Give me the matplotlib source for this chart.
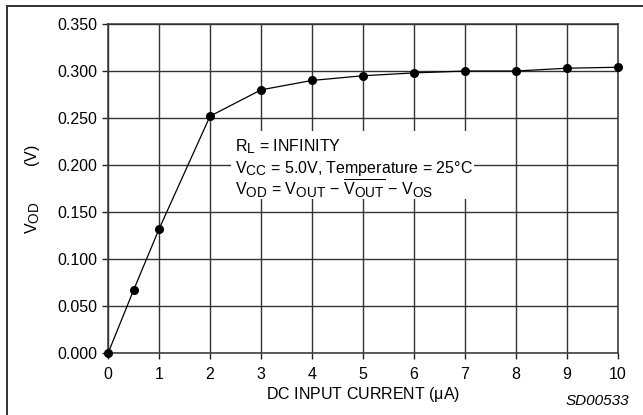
import matplotlib
matplotlib.use("Agg")
from matplotlib import pyplot as plt
from matplotlib.patches import Rectangle
from matplotlib.lines import Line2D
import matplotlib._mathtext as mathtext_internal

# values
current = [0, 0.5, 1, 2, 3, 4, 5, 6, 7, 8, 9, 10]
vod = [0.000, 0.067, 0.132, 0.252, 0.280, 0.290, 0.295, 0.298, 0.300, 0.300, 0.303, 0.304]

x_ticks = [0, 1, 2, 3, 4, 5, 6, 7, 8, 9, 10]
y_ticks = [0.000, 0.050, 0.100, 0.150, 0.200, 0.250, 0.300, 0.350]
note_lines = [
    r"$\mathregular{R_L}$ = INFINITY",
    r"$\mathregular{V_{CC}}$ = 5.0V, Temperature = 25$\mathregular{\degree}$C",
    r"$\mathregular{V_{OD}}$ = $\mathregular{V_{OUT}}$ − $\mathregular{\overline{V_{OUT}}}$ − $\mathregular{V_{OS}}$",
]

# subscripts in the datasheet are only slightly smaller than the main text
mathtext_internal.SHRINK_FACTOR = 0.85

plt.rcParams["font.family"] = ["Liberation Sans", "DejaVu Sans"]
plt.rcParams["mathtext.fontset"] = "custom"
plt.rcParams["mathtext.rm"] = "Liberation Sans"
plt.rcParams["mathtext.it"] = "Liberation Sans:italic"
plt.rcParams["mathtext.bf"] = "Liberation Sans:bold"

fs = 11.5
fig = plt.figure(figsize=(6.43, 4.15), dpi=100)
ax = fig.add_axes([0.168, 0.1487, 0.7932, 0.7935])

ax.plot(current, vod, color="black", lw=0.9, marker="o", ms=5.5, zorder=4, clip_on=False)

ax.set_xlim(0, 10)
ax.set_ylim(0, 0.35)
ax.set_xticks(x_ticks)
ax.set_yticks(y_ticks)
ax.set_yticklabels(["%.3f" % v for v in y_ticks])
ax.tick_params(direction="out", length=4, width=1, colors="#222222", labelsize=fs)
ax.tick_params(axis="y", pad=4)
ax.tick_params(axis="x", pad=6)
for lab in ax.get_xticklabels() + ax.get_yticklabels():
    lab.set_color("black")

ax.set_axisbelow(True)
ax.grid(True, color="#333333", lw=1.0, zorder=0.5)
for s in ax.spines.values():
    s.set_color("#333333")
    s.set_linewidth(1.1)

ax.set_xlabel(r"DC INPUT CURRENT ($\mathregular{\mu}$A)", fontsize=fs, labelpad=2)
fig.text(33 / 643, 1 - 189 / 415, r"$\mathregular{V_{OD}}$        (V)", rotation=90,
         ha="center", va="center", fontsize=fs)

# white box behind the conditions note
ax.add_patch(Rectangle((2.41, 0.1637), 4.76, 0.0726, facecolor="white", edgecolor="none", zorder=1))
note_y = [0.2146, 0.1915, 0.1679]
for txt, yy in zip(note_lines, note_y):
    ax.text(2.485, yy, txt, fontsize=fs, ha="left", va="baseline", zorder=3)

fig.text(629 / 643, 1 - 401 / 415, "SD00533", style="italic", fontsize=11,
         ha="right", va="center")

# partial frame around the figure (left and top)
fig.add_artist(Line2D([6.5 / 643, 6.5 / 643], [0, 1 - 5.7 / 415], color="#333333", lw=1.4))
fig.add_artist(Line2D([6.5 / 643, 1], [1 - 5.7 / 415, 1 - 5.7 / 415], color="#333333", lw=1.4))

plt.savefig("out.png", dpi=100)
